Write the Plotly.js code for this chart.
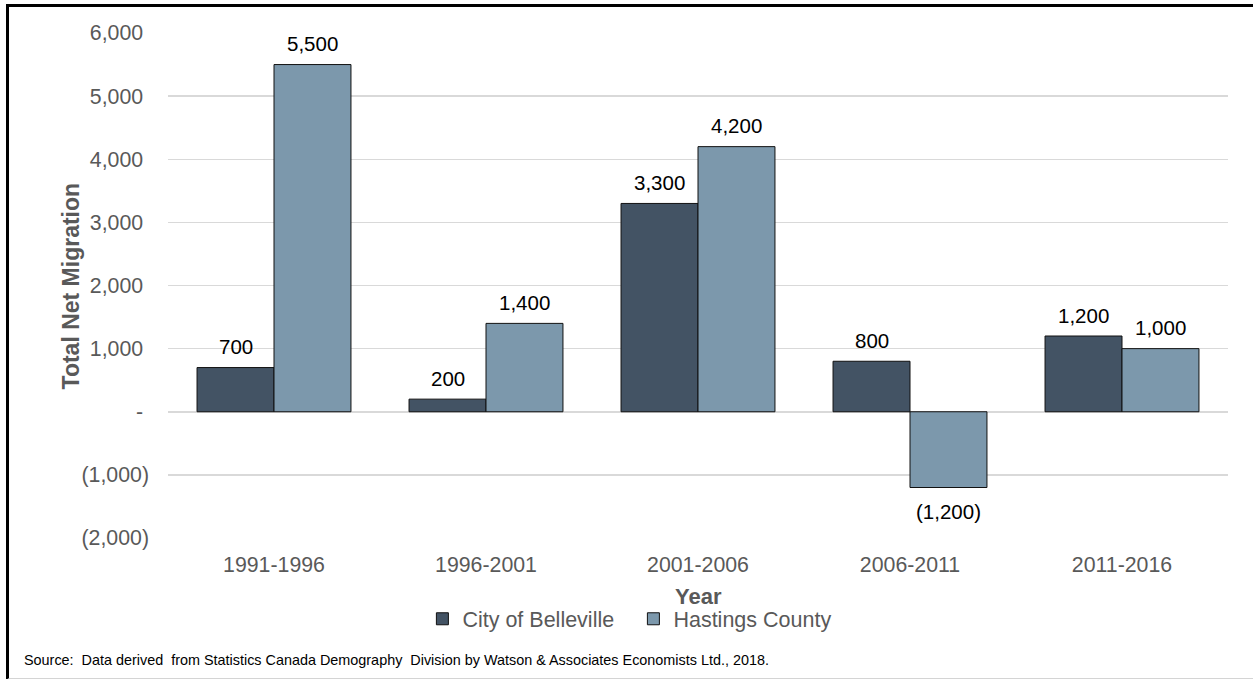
<!DOCTYPE html>
<html>
<head>
<meta charset="utf-8">
<script src="https://cdn.plot.ly/plotly-3.0.1.min.js"></script>
<style>
html,body{margin:0;padding:0;background:#fff;}
#wrap{position:relative;width:1253px;height:679px;overflow:hidden;}
#chart{position:absolute;left:0;top:0;width:1253px;height:679px;}
#frame{position:absolute;left:6px;top:4px;width:1260px;height:671px;border-left:3px solid #000;border-top:3px solid #000;border-bottom:2px solid #d4d4d4;pointer-events:none;}
</style>
</head>
<body>
<div id="wrap"><div id="chart"></div><div id="frame"></div></div>
<script>
const categories = ["1991-1996", "1996-2001", "2001-2006", "2006-2011", "2011-2016"];
const belleville = [700, 200, 3300, 800, 1200];
const hastings = [5500, 1400, 4200, -1200, 1000];
const seriesNames = ["City of Belleville", "Hastings County"];
const yTickVals = [6000, 5000, 4000, 3000, 2000, 1000, 0, -1000, -2000];
const yTickText = ["6,000\u00a0", "5,000\u00a0", "4,000\u00a0", "3,000\u00a0", "2,000\u00a0", "1,000\u00a0", "-\u00a0", "(1,000)", "(2,000)"];

function fmt(v) {
  const s = Math.abs(v).toLocaleString("en-US");
  return v < 0 ? "(" + s + ")" : s;
}

const FF = "Liberation Sans, Arial, sans-serif";
const barColors = ["#435364", "#7C98AC"];
const seriesVals = [belleville, hastings];

const traces = seriesVals.map((vals, i) => ({
  type: "bar", name: seriesNames[i], x: categories, y: vals,
  marker: {color: barColors[i], line: {color: "#111", width: 1}}, hoverinfo: "none"
}));

// data labels positioned via the axes (category + value), shifted to each bar of the group
const bargap = 0.274;
const slotPx = 1060 / categories.length;
const barPx = slotPx * (1 - bargap) / 2;
const labelAnns = [];
seriesVals.forEach((vals, i) => {
  vals.forEach((v, j) => {
    labelAnns.push({
      x: categories[j], y: v, xref: "x", yref: "y", text: fmt(v), showarrow: false,
      xshift: (i === 0 ? -1 : 1) * barPx / 2, yanchor: "middle",
      yshift: v < 0 ? -24 : 21,
      font: {family: FF, size: 20.5, color: "#000"}
    });
  });
});

const layout = {
  width: 1253, height: 679,
  margin: {l: 168, r: 25, t: 33, b: 141},
  paper_bgcolor: "#fff", plot_bgcolor: "#fff",
  barmode: "group", bargap: bargap, bargroupgap: 0,
  font: {family: FF, size: 21, color: "#595959"},
  showlegend: true,
  legend: {orientation: "h", x: 0.24, xanchor: "left", y: -0.16, yanchor: "middle",
           font: {family: FF, size: 21.5, color: "#595959"}, itemwidth: 30, entrywidth: 166,
           traceorder: "normal"},
  xaxis: {showgrid: false, zeroline: false, showline: false, ticks: "",
          ticklabelstandoff: 12, tickfont: {family: FF, size: 21.3, color: "#595959"}, fixedrange: true},
  yaxis: {range: [-2000, 6000], tickvals: yTickVals, ticktext: yTickText,
          showgrid: true, gridcolor: "#d9d9d9", gridwidth: 1.5, zeroline: false, showline: false,
          ticks: "", ticklabelstandoff: 18, tickfont: {family: FF, size: 21.3, color: "#595959"}, fixedrange: true},
  annotations: labelAnns.concat([
    {text: "<b>Total Net Migration</b>", xref: "paper", yref: "paper", x: -0.1057, y: 0.5,
     textangle: -90, showarrow: false, font: {family: FF, size: 23, color: "#595959"}},
    {text: "<b>Year</b>", xref: "paper", yref: "paper", x: 0.5, y: -0.115, yanchor: "middle",
     showarrow: false, font: {family: FF, size: 22, color: "#595959"}},
    {text: "Source:  Data derived  from Statistics Canada Demography  Division by Watson &amp; Associates Economists Ltd., 2018.",
     xref: "paper", yref: "paper", x: -0.1377, xanchor: "left", y: -0.242, yanchor: "middle",
     showarrow: false, font: {family: FF, size: 14.4, color: "#000"}}
  ])
};

Plotly.newPlot("chart", traces, layout, {displayModeBar: false, staticPlot: true});
</script>
</body>
</html>
